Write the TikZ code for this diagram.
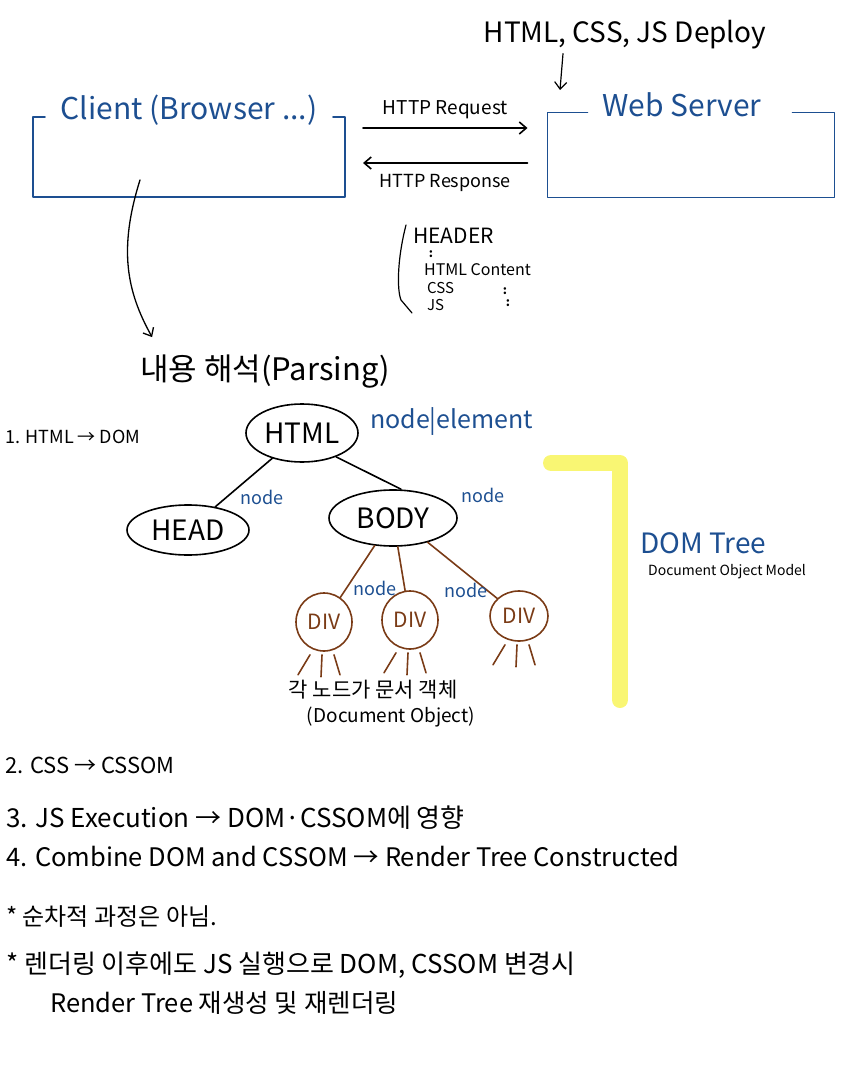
\documentclass[tikz,border=0pt]{standalone}
\usepackage{fontspec}
\setmainfont{Noto Sans CJK KR}
\usetikzlibrary{arrows.meta,shapes.geometric}
\definecolor{penblue}{HTML}{1D4F91}
\definecolor{penbrown}{HTML}{7A3B16}
\definecolor{marker}{HTML}{F8F55A}
\newcommand{\fs}[1]{\fontsize{#1}{#1}\selectfont}

\begin{document}
\begin{tikzpicture}[x=1pt,y=-1pt,
    >={Straight Barb[length=7pt,width=12pt]},
    pen/.style={line width=1.6pt,line cap=round,line join=round},
    bluepen/.style={pen,draw=penblue},
    txt/.style={inner sep=0pt,anchor=west},
    tag/.style={inner sep=0pt,text=penblue,font=\fs{18}},
    oval/.style={ellipse,draw,pen,inner sep=0pt,font=\fs{28}},
    divnode/.style={ellipse,draw=penbrown,pen,text=penbrown,minimum width=56pt,
        minimum height=58pt,inner sep=0pt,font=\fs{21}},
    frame/.style={inner sep=0pt,outer sep=0pt}]
\useasboundingbox (0,0) rectangle (849,1078);

% server side
\node[inner sep=0pt,font=\fs{28}] (deploy) at (625,35) {HTML, CSS, JS Deploy};
\coordinate (deployend) at (560,90);
\draw[->,pen,line width=1.2pt] ([xshift=-62pt,yshift=-4pt]deploy.south) -- (deployend);

\node[frame,minimum width=312pt,minimum height=80pt] (client) at (189,157) {};
\draw[bluepen] ([xshift=12pt]client.north west) -- (client.north west)
    -- (client.south west) -- (client.south east) -- (client.north east)
    -- ([xshift=-12pt]client.north east);
\node[inner sep=0pt,text=penblue,font=\fs{30}] (clientlabel)
    at ([yshift=7pt]client.north) {Client (Browser ...)};

\node[frame,minimum width=287pt,minimum height=85pt] (server) at (691,155) {};
\draw[bluepen] ([xshift=40pt]server.north west) -- (server.north west)
    -- (server.south west) -- (server.south east) -- (server.north east)
    -- ([xshift=-42pt]server.north east);
\node[inner sep=0pt,text=penblue,font=\fs{30}] (serverlabel)
    at ([xshift=-9pt,yshift=8pt]server.north) {Web Server};

\draw[->,pen] ([xshift=18pt,yshift=29pt]client.east) -- ([xshift=-20pt,yshift=27pt]server.west)
    node[midway,above=5pt,font=\fs{19}] (request) {HTTP Request};
\draw[->,pen] ([xshift=-20pt,yshift=-8pt]server.west) -- ([xshift=18pt,yshift=-6pt]client.east)
    node[midway,below=7pt,font=\fs{18}] (response) {HTTP Response};

% response contents
\node[txt,font=\fs{21}] (header) at (413,236) {HEADER};
\node[inner sep=0pt,font=\bfseries\fs{12}] (hdots) at (431,254) {:};
\node[txt,font=\fs{16}] (content) at (424,270) {HTML Content};
\node[txt,font=\fs{15}] (css) at (427,288) {CSS};
\node[txt,font=\fs{15}] (js) at (427,305) {JS};
\node[inner sep=0pt,font=\bfseries\fs{12}] (cdots) at (505,291) {:};
\node[inner sep=0pt,font=\bfseries\fs{12}] (jdots) at (508,303) {:};
\draw[pen,line width=1.2pt] (406,225) .. controls (397,260) and (397,290) .. (401,300) -- (412,313);

% parsing
\node[inner sep=0pt,font=\fs{31}] (parsing) at (265,372) {내용 해석(Parsing)};
\draw[->,pen,line width=1.3pt] ([xshift=-49pt,yshift=17pt]client.south)
    .. controls +(-22,70) and +(-25,-45) .. ([xshift=12pt,yshift=18pt]parsing.north west);

\node[txt,font=\fs{18}] (step1) at (5,437) {1. HTML → DOM};

% DOM tree
\node[oval,minimum width=112pt,minimum height=58pt] (html) at (302,433) {HTML};
\node[oval,minimum width=122pt,minimum height=50pt] (head) at (188,530) {HEAD};
\node[oval,minimum width=128pt,minimum height=56pt] (body) at (393,518) {BODY};
\node[divnode] (div1) at (324,622) {DIV};
\node[divnode] (div2) at (410,620) {DIV};
\node[divnode,minimum width=58pt,minimum height=50pt] (div3) at (519,616) {DIV};

\draw[pen] (html) -- (head);
\draw[pen] (html.-35) -- ([xshift=8pt]body.north);
\draw[pen,draw=penbrown] (body) -- (div1);
\draw[pen,draw=penbrown] (body) -- (div2);
\draw[pen,draw=penbrown] (body.-35) -- (div3);
\foreach \d in {div1,div2,div3} {
    \draw[pen,draw=penbrown] ([xshift=-14pt,yshift=-3pt]\d.south) -- ++(-12,20);
    \draw[pen,draw=penbrown] ([xshift=-2pt,yshift=-3pt]\d.south) -- ++(-1,22);
    \draw[pen,draw=penbrown] ([xshift=10pt,yshift=-3pt]\d.south) -- ++(6,20);
}

\node[tag,anchor=west,font=\fs{25}] (tagroot) at (370,422) {node|element};
\node[tag] (taghead) at (262,497) {node};
\node[tag] (tagbody) at (483,495) {node};
\node[tag] (tagdiv1) at (375,588) {node};
\node[tag] (tagdiv2) at (466,590) {node};

\node[inner sep=0pt,font=\fs{21}] (docobj) at (373,690) {각 노드가 문서 객체};
\node[inner sep=0pt,font=\fs{19}] (docobjen) at (391,717) {(Document Object)};

\draw[marker,line width=16pt,line cap=round,line join=round,opacity=.85]
    (551,463) -- (620,463) -- (620,700);
\node[txt,text=penblue,font=\fs{28}] (domtree) at (640,543) {DOM Tree};
\node[txt,font=\fs{14}] (dommodel) at (648,572) {Document Object Model};

% steps and notes
\node[txt,font=\fs{22}] (step2) at (5,765) {2. CSS → CSSOM};
\node[txt,font=\fs{26}] (step3) at (6,818) {3. JS Execution → DOM·CSSOM에 영향};
\node[txt,font=\fs{25.5}] (step4) at (6,857) {4. Combine DOM and CSSOM → Render Tree Constructed};
\node[txt,font=\fs{24}] (note1) at (6,917) {* 순차적 과정은 아님.};
\node[txt,font=\fs{26}] (note2) at (6,965) {* 렌더링 이후에도 JS 실행으로 DOM, CSSOM 변경시};
\node[txt,font=\fs{25.5}] (note3) at (50,1003) {Render Tree 재생성 및 재렌더링};
\end{tikzpicture}
\end{document}
